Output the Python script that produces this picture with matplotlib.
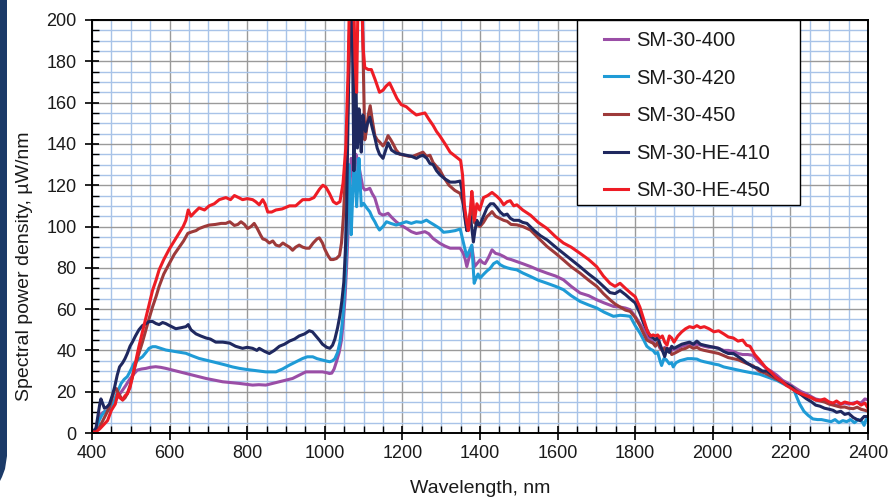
import matplotlib
matplotlib.use("Agg")
import matplotlib.pyplot as plt
from matplotlib.ticker import MultipleLocator
from matplotlib.patches import Polygon, Rectangle

plt.rcParams['font.family'] = ['Liberation Sans', 'DejaVu Sans']

# ---------------- data ----------------
wl_400 = [400, 410, 419, 425, 432, 440, 445, 452, 462, 470, 479, 487, 496, 505, 517, 528, 539, 550, 564, 577,
          590, 607, 625, 642, 659, 676, 694, 715, 737, 758, 780, 797, 814, 830, 848, 865, 883, 900, 917, 934,
          951, 965, 977, 994, 1005, 1012, 1018, 1024, 1030, 1037, 1043, 1048, 1052, 1056, 1060, 1064, 1068,
          1072, 1076, 1080, 1086, 1090, 1094, 1098, 1103, 1110, 1116, 1122, 1129, 1135, 1141, 1150, 1158, 1163,
          1172, 1184, 1197, 1210, 1223, 1236, 1247, 1258, 1268, 1279, 1288, 1297, 1310, 1323, 1336, 1349, 1357,
          1362, 1366, 1372, 1379, 1383, 1386, 1392, 1400, 1407, 1413, 1422, 1431, 1440, 1450, 1461, 1470, 1480,
          1495, 1510, 1530, 1550, 1573, 1595, 1615, 1635, 1658, 1680, 1701, 1720, 1744, 1761, 1775, 1787, 1800,
          1812, 1822, 1830, 1840, 1846, 1852, 1858, 1864, 1870, 1876, 1882, 1888, 1894, 1900, 1910, 1920, 1930,
          1940, 1950, 1959, 1968, 1978, 1990, 2003, 2015, 2028, 2040, 2053, 2065, 2077, 2090, 2104, 2115, 2128,
          2140, 2150, 2165, 2180, 2190, 2203, 2215, 2228, 2241, 2255, 2265, 2276, 2288, 2300, 2310, 2319, 2330,
          2340, 2350, 2362, 2372, 2382, 2392, 2400]
sm_400 = [0.5, 2, 7.7, 9.5, 10.3, 10.8, 11.1, 13, 16, 18.5, 20.8, 23, 25.7, 28, 30.5, 31, 31.3, 31.8, 32.1, 31.8,
          31.3, 30.5, 29.6, 28.8, 28, 27.2, 26.4, 25.6, 24.8, 24.4, 24, 23.6, 23.2, 23.4, 23.2, 24, 24.8, 25.6, 26.4, 28,
          29.6, 29.6, 29.6, 29.6, 29.2, 28.8, 29, 31, 34.5, 39, 45, 55, 65, 80, 97, 115, 133,
          130, 118, 135, 131.4, 127, 123, 119, 117.7, 118, 118.5, 116, 113.8, 110, 106.4, 105.5, 106, 106.4,
          104.5, 102.3, 100.5, 99.1, 97.5, 96.6, 97, 97.5, 96.5, 94.2, 93, 91.8, 90.5, 89.5, 89.5, 89.5, 87,
          84, 80.6, 85, 90.3, 85, 80.6, 82, 83.8, 82.5, 82, 85, 88.7, 87, 86.5, 85.5, 84.5, 84,
          83, 82, 80.6, 79, 77.4, 76, 74.2, 71, 67.8, 66.5, 64.5, 63, 61.3, 61, 60.5, 59.7, 56.5,
          53, 50, 47, 45, 44, 42.5, 43.5, 41, 40, 41.5, 39.5, 41, 40, 40.5, 41, 42, 42.5,
          43.5, 42.5, 43, 42.5, 42, 41.5, 41.6, 41, 40, 40, 39.5, 38.5, 38, 38, 37.6, 35, 33,
          31, 30, 28, 25.5, 24.5, 23, 21.5, 20, 19, 17.5, 16.5, 16, 15.5, 14.5, 14, 13.5, 14,
          14.5, 14, 14.5, 15, 14.5, 16.5, 16]

wl_420 = [400, 410, 419, 425, 432, 440, 445, 452, 458, 466, 475, 483, 491, 500, 508, 519, 530, 539, 547, 556,
          564, 577, 590, 603, 616, 629, 642, 659, 676, 694, 711, 728, 745, 762, 780, 797, 814, 831, 848, 861,
          874, 891, 909, 926, 943, 955, 969, 980, 994, 1005, 1013, 1020, 1026, 1033, 1039, 1043, 1047, 1052,
          1056, 1059, 1062, 1065, 1068, 1071, 1074, 1077, 1080, 1082, 1085, 1088, 1091, 1094, 1100, 1108, 1116,
          1122, 1129, 1135, 1141, 1150, 1159, 1170, 1184, 1197, 1210, 1223, 1236, 1249, 1262, 1271, 1280, 1296,
          1306, 1320, 1336, 1349, 1354, 1360, 1366, 1372, 1379, 1382, 1385, 1390, 1395, 1400, 1410, 1418, 1426,
          1435, 1444, 1452, 1461, 1470, 1480, 1495, 1510, 1530, 1550, 1573, 1595, 1615, 1635, 1658, 1680, 1701,
          1720, 1744, 1761, 1775, 1787, 1800, 1812, 1822, 1830, 1840, 1846, 1852, 1858, 1864, 1868, 1874, 1880,
          1888, 1894, 1898, 1905, 1915, 1925, 1935, 1945, 1959, 1968, 1978, 1990, 2003, 2015, 2028, 2040, 2053,
          2065, 2077, 2090, 2104, 2120, 2135, 2150, 2165, 2180, 2190, 2200, 2207, 2215, 2224, 2235, 2246, 2258,
          2270, 2280, 2293, 2305, 2315, 2325, 2335, 2345, 2355, 2365, 2375, 2385, 2390, 2395, 2400]
sm_420 = [0.5, 2, 6.3, 8.5, 10.3, 10.8, 11.1, 13.5, 16, 20, 24, 26, 27.3, 30.5, 33.7, 35.5, 36.9, 39, 41, 41.8,
          41.8, 41, 40.2, 39.8, 39.4, 39, 38.6, 37.3, 36.1, 35.3, 34.5, 33.7, 32.9, 32, 31.3, 30.8, 30.4, 30, 29.6, 29.6,
          29.6, 31, 32.9, 34.5, 36.1, 36.9, 36.9, 36, 35.3, 34.8, 34.5, 35, 36, 39, 44, 50, 57, 72,
          89, 110, 130, 118, 96, 110, 125, 133, 118, 109.6, 120, 133, 122, 110, 111.2, 109, 107.1,
          104.5, 102.3, 100, 98.3, 100, 102.3, 101.5, 100.7, 101.5, 102.3, 101.5, 102.3, 102, 103.1, 102, 101, 99.1,
          97.2, 97.5, 98, 98.8, 94.8, 90, 85.5, 88, 91, 82, 72.5, 75, 77, 75, 77, 78.5, 79.7,
          82, 83, 81.5, 80.6, 80, 79.5, 79, 77.5, 75.8, 74, 72.5, 71, 69.4, 66.5, 63.7, 62, 60.5,
          58.5, 56.5, 57, 56.8, 56.5, 52, 48.5, 45, 42, 40.5, 40, 38.5, 39, 35, 32.7, 36, 35.5,
          33.5, 34, 32, 34, 35, 35.5, 36, 36, 35.8, 35, 34.5, 34, 33.4, 33, 32, 31.5, 31,
          30.5, 30, 29.5, 29, 28.5, 27.5, 26.5, 25.5, 24, 23, 22.5, 22, 18, 14, 10.5, 8.5, 6.8,
          6.5, 6.5, 6, 5.5, 6.5, 5, 6, 5.5, 6.5, 5, 6.5, 5.5, 3.7, 6.5, 7]

wl_450 = [400, 410, 420, 428, 436, 445, 452, 458, 463, 466, 472, 479, 485, 491, 498, 504, 512, 521, 530, 539,
          548, 556, 565, 573, 585, 599, 612, 625, 636, 647, 659, 668, 676, 690, 702, 718, 733, 745, 755, 767,
          776, 784, 793, 801, 810, 818, 826, 834, 840, 848, 857, 866, 874, 883, 892, 900, 909, 917, 925, 934,
          943, 952, 960, 970, 980, 986, 994, 1000, 1008, 1015, 1022, 1030, 1038, 1043, 1048, 1053, 1058, 1062,
          1066, 1072, 1078, 1084, 1090, 1096, 1099, 1103, 1107, 1112, 1117, 1122, 1129, 1135, 1141, 1150, 1157,
          1163, 1170, 1176, 1184, 1193, 1205, 1217, 1227, 1240, 1253, 1262, 1271, 1279, 1288, 1296, 1306, 1320,
          1335, 1349, 1357, 1362, 1366, 1372, 1379, 1385, 1392, 1400, 1409, 1418, 1425, 1431, 1440, 1450, 1461,
          1470, 1480, 1495, 1510, 1530, 1550, 1573, 1595, 1615, 1635, 1658, 1680, 1701, 1718, 1735, 1748, 1761,
          1775, 1787, 1800, 1812, 1822, 1830, 1840, 1846, 1852, 1858, 1864, 1870, 1876, 1882, 1888, 1894, 1900,
          1910, 1920, 1930, 1940, 1950, 1959, 1968, 1978, 1990, 2003, 2015, 2028, 2040, 2053, 2065, 2077, 2090,
          2104, 2120, 2135, 2150, 2165, 2180, 2190, 2203, 2215, 2228, 2241, 2255, 2265, 2276, 2288, 2300, 2310,
          2319, 2330, 2340, 2350, 2362, 2372, 2382, 2392, 2400]
sm_450 = [0.5, 1, 3, 6, 9, 12.7, 17, 20.8, 21.5, 20, 18, 16, 17, 19, 23, 27, 33, 38.6, 44, 50,
          56, 61, 66, 71, 77, 82, 86.5, 90, 93, 96.7, 97.5, 98, 99, 100, 100.7, 101, 101.5, 101.5, 102.3, 100.5,
          101, 102.3, 101, 99, 100, 101.5, 99, 96, 94, 93.5, 92, 93, 91, 90.5, 92, 91, 90, 88.5, 90, 91,
          90, 89.5, 89.5, 92, 94, 94.5, 92, 89, 86, 84, 84, 84.5, 86, 92, 105, 125, 150, 175,
          205, 212, 212, 200, 212, 212, 180, 142, 146, 154, 158.5, 152, 144, 142, 141, 139, 141,
          144, 142, 140, 137, 135, 134.5, 134, 134, 135, 136, 134, 134.5, 131, 129, 127.5, 124, 120,
          117.5, 116, 111, 104, 99, 104, 109.5, 102, 101, 100, 102, 104.8, 106, 107.2, 105, 104, 103,
          102.5, 101, 100.8, 100, 98.3, 94.5, 90.3, 87, 83.8, 80.5, 77.4, 74, 71, 67.5, 64.5, 62.5, 61,
          59.5, 58.9, 56, 52, 48, 45, 44, 43.5, 42, 44, 41.5, 40, 41, 39.5, 40.5, 38, 38.5,
          39.5, 40.5, 41, 42, 41, 41.5, 40.5, 40, 39.5, 39, 38.5, 37.5, 36.5, 36, 35.5, 34.5, 33.5,
          32.5, 30, 29, 27.5, 26, 24.5, 23.5, 22.3, 20.5, 19, 18, 17, 16, 15.5, 15, 14, 13.5,
          13, 12.5, 12.6, 12, 11.8, 12.5, 11.5, 11, 10.5]

wl_he410 = [400, 410, 415, 420, 423, 428, 432, 438, 445, 452, 458, 465, 471, 479, 485, 491, 498, 504, 512, 521,
            530, 539, 548, 556, 565, 573, 582, 590, 600, 616, 630, 642, 648, 655, 668, 680, 694, 705, 719, 737,
            755, 770, 788, 800, 814, 825, 831, 845, 857, 870, 883, 896, 909, 922, 934, 948, 960, 968, 977, 986,
            994, 1005, 1013, 1020, 1026, 1033, 1039, 1044, 1049, 1053, 1056, 1060, 1063, 1066, 1070, 1073, 1075,
            1078, 1080, 1082, 1084, 1088, 1091, 1094, 1098, 1101, 1105, 1110, 1116, 1122, 1129, 1135, 1141, 1150,
            1157, 1163, 1172, 1184, 1197, 1210, 1223, 1236, 1245, 1253, 1263, 1271, 1279, 1288, 1297, 1310, 1323,
            1336, 1349, 1353, 1357, 1362, 1366, 1370, 1375, 1379, 1383, 1387, 1392, 1396, 1400, 1409, 1418, 1427,
            1435, 1444, 1452, 1461, 1470, 1478, 1487, 1500, 1510, 1521, 1540, 1556, 1573, 1595, 1615, 1635, 1658,
            1680, 1701, 1718, 1735, 1748, 1761, 1775, 1787, 1800, 1812, 1822, 1830, 1838, 1846, 1852, 1858, 1864,
            1870, 1876, 1882, 1888, 1894, 1900, 1910, 1920, 1930, 1940, 1950, 1959, 1968, 1978, 1990, 2003, 2015,
            2028, 2040, 2053, 2065, 2077, 2087, 2096, 2104, 2115, 2128, 2140, 2155, 2170, 2185, 2203, 2215, 2228,
            2241, 2255, 2265, 2276, 2288, 2300, 2310, 2319, 2330, 2340, 2350, 2362, 2372, 2380, 2390, 2400]
sm_he410 = [0.5, 2, 8, 14, 16.5, 14, 12, 12.5, 14, 18, 22, 28, 32, 34, 36, 38.5, 42, 44, 47, 50,
            52, 53, 54, 54, 53, 52.5, 53.5, 53, 52, 50.5, 51, 51.5, 52.5, 50, 48, 47, 46, 45.5, 44, 44,
            43.5, 42, 41, 41.5, 41, 40, 41, 39.5, 38.5, 40, 42, 43, 44.5, 45.5, 47, 48, 49.5, 49, 47, 45,
            43, 41.5, 41, 42.5, 45.5, 51, 57, 64, 73, 88, 105, 154, 190, 212, 212, 160, 127,
            160, 175, 150, 138, 157, 145, 136, 154, 150, 146, 150, 153, 148, 143, 138, 135, 133,
            137, 140.5, 137, 135.5, 135, 134.5, 134, 133, 134, 134.5, 133, 130.5, 130, 127, 125, 123, 121.5,
            121.5, 122, 118, 111, 103, 98, 101, 105, 99, 92.5, 98, 103, 101, 101, 105, 109, 111,
            111, 109, 107, 105.5, 106, 104, 103, 103, 102, 101.5, 98, 95.5, 93.5, 90, 87, 84, 80.5,
            77, 74, 71, 68, 67.5, 69, 67, 65, 63, 58, 53, 50, 47, 46, 45, 46.5, 43,
            40, 37, 41, 39, 42, 41, 42, 43, 43.5, 44, 43, 44.5, 43, 42.5, 42, 41.5, 41,
            39.5, 38.5, 38.5, 37, 35.5, 34, 33, 32, 31.5, 30, 30, 28, 26, 24, 22.3, 20, 18.5,
            16.6, 15, 13.5, 13, 12, 11.5, 11, 10, 10.5, 9, 9.5, 7.5, 6.5, 6, 8, 8]

wl_he450 = [400, 410, 420, 430, 440, 450, 460, 466, 472, 479, 485, 491, 498, 504, 512, 521, 530, 539, 548, 556,
            565, 573, 585, 599, 612, 625, 635, 642, 648, 655, 665, 676, 690, 702, 715, 728, 745, 757, 767, 778,
            788, 800, 814, 822, 831, 840, 846, 853, 863, 874, 890, 909, 925, 943, 960, 972, 986, 995, 1003, 1012,
            1022, 1030, 1039, 1047, 1054, 1060, 1064, 1068, 1074, 1078, 1082, 1086, 1090, 1095, 1099, 1103, 1112,
            1120, 1130, 1141, 1150, 1158, 1167, 1176, 1186, 1197, 1210, 1222, 1236, 1247, 1258, 1268, 1279, 1288,
            1296, 1310, 1323, 1340, 1350, 1355, 1360, 1366, 1370, 1375, 1379, 1383, 1386, 1392, 1399, 1409, 1420,
            1431, 1444, 1452, 1461, 1470, 1478, 1487, 1495, 1510, 1530, 1550, 1573, 1595, 1615, 1635, 1658, 1680,
            1701, 1718, 1735, 1748, 1761, 1775, 1787, 1800, 1812, 1822, 1832, 1840, 1846, 1852, 1858, 1864, 1870,
            1876, 1882, 1888, 1894, 1900, 1910, 1920, 1930, 1940, 1950, 1959, 1968, 1978, 1990, 2003, 2015, 2028,
            2040, 2053, 2065, 2077, 2087, 2096, 2108, 2120, 2135, 2150, 2163, 2178, 2190, 2203, 2215, 2228, 2241,
            2255, 2265, 2276, 2288, 2300, 2310, 2319, 2330, 2340, 2350, 2362, 2372, 2382, 2392, 2400]
sm_he450 = [0.5, 0.5, 2, 4, 6, 11, 14, 19, 17, 16, 18, 19, 22, 27, 34, 42, 49, 56, 63, 69,
            74, 79, 84, 89, 93, 97, 100, 103, 108, 105, 107, 109, 108, 110, 111, 113, 114, 113, 115, 114,
            113, 113.5, 113, 112, 110.5, 113, 111, 107, 107, 108, 108.5, 110, 110, 113, 113, 114, 118, 120, 119, 116,
            112, 111, 112, 121, 138, 175, 215, 215, 215, 180, 165, 215, 215, 210, 186, 177, 176,
            176, 171, 165, 166, 168, 169.5, 166, 162, 159, 158, 156, 154, 154.5, 155, 152, 149, 146,
            144, 140, 136, 133.5, 132, 125, 110, 102, 98, 108, 117, 110, 103, 111, 108, 114, 115,
            116.5, 114.5, 113, 110.5, 112, 112.5, 110, 110.5, 108, 105.5, 102, 99, 95, 92, 90, 87, 84,
            80.5, 76, 72.5, 71, 72.5, 70, 68, 66, 61, 55, 49, 47, 47.5, 47, 47.5, 46, 47,
            44, 42.5, 47, 46, 44, 47, 49, 50.5, 51.5, 51, 52, 51, 51.5, 50.5, 49, 49.5, 48,
            46.5, 46, 44.5, 45, 42.5, 42, 38, 35.5, 32, 29.5, 27, 25, 23, 21.5, 20, 19, 18,
            17, 16, 15.8, 16.5, 15, 14.5, 15.5, 14, 15, 14.5, 14, 15, 13.5, 14.5, 12]

series = [
    ("SM-30-400", wl_400, sm_400, "#9a4ea6"),
    ("SM-30-420", wl_420, sm_420, "#1f9bd6"),
    ("SM-30-450", wl_450, sm_450, "#9e3a3a"),
    ("SM-30-HE-410", wl_he410, sm_he410, "#1f285f"),
    ("SM-30-HE-450", wl_he450, sm_he450, "#ee1c25"),
]

x_ticks = [400, 600, 800, 1000, 1200, 1400, 1600, 1800, 2000, 2200, 2400]
y_ticks = [0, 20, 40, 60, 80, 100, 120, 140, 160, 180, 200]

# ---------------- figure ----------------
W, H = 895, 501
fig = plt.figure(figsize=(W / 100, H / 100), dpi=100)
ax = fig.add_axes([92 / W, 1 - 433 / H, (868 - 92) / W, (433 - 20) / H])

for name, wl, val, col in series:
    ax.plot(wl, val, color=col, lw=2.2, label=name, zorder=3, solid_joinstyle='round')

ax.set_xlim(400, 2400)
ax.set_ylim(0, 200)
ax.set_xticks(x_ticks)
ax.set_yticks(y_ticks)
ax.xaxis.set_minor_locator(MultipleLocator(50))
ax.yaxis.set_minor_locator(MultipleLocator(5))

ax.grid(which='minor', color='#a8c3e8', lw=1.0, zorder=0)
ax.grid(which='major', color='#9a9a9a', lw=1.0, zorder=1)
ax.set_axisbelow(True)

for s in ax.spines.values():
    s.set_color('black')
    s.set_linewidth(1.4)
    s.set_zorder(5)

ax.tick_params(which='major', direction='inout', length=10, width=1.2, colors='black',
               labelsize=13, labelcolor='#1a1a1a')
ax.tick_params(axis='x', which='major', pad=4)
ax.tick_params(axis='y', which='major', pad=6)
ax.tick_params(which='minor', direction='in', length=5, width=1.0, colors='black')
ax.tick_params(axis='y', which='both', right=False)
ax.tick_params(axis='x', which='both', top=False)

ax.set_xlabel("Wavelength, nm", fontsize=14, color='#1a1a1a')
ax.set_ylabel("Spectral power density, µW/nm", fontsize=14, color='#1a1a1a')
ax.xaxis.set_label_coords(0.5, (433 - 480) / 413)
ax.yaxis.set_label_coords((33 - 92) / 776, (433 - 266) / 413)

# legend box (frame drawn separately to match the wide right padding)
frame = Rectangle(((577 - 92) / 776, (433 - 205) / 413), (800 - 577) / 776, (205 - 20) / 413,
                  transform=ax.transAxes, facecolor='white', edgecolor='black', lw=1.0, zorder=6,
                  clip_on=False)
ax.add_patch(frame)
leg = ax.legend(loc='upper left', bbox_to_anchor=((604 - 92) / 776, (433 - 31) / 413), fontsize=14.5,
                frameon=False, handlelength=1.2, handletextpad=0.4, labelspacing=0.92,
                borderpad=0.0, borderaxespad=0.0)
leg.set_zorder(7)
for t in leg.get_texts():
    t.set_color('#1a1a1a')

# left decorative stripe of the source page
stripe = Polygon([(0, 1.0), (7 / W, 1.0), (7 / W, 45 / H), (5 / W, 32 / H), (2 / W, 24 / H), (0, 20 / H)],
                 closed=True, transform=fig.transFigure, facecolor='#1b3a68', edgecolor='none')
fig.patches.append(stripe)

fig.savefig("out.png", dpi=100)
